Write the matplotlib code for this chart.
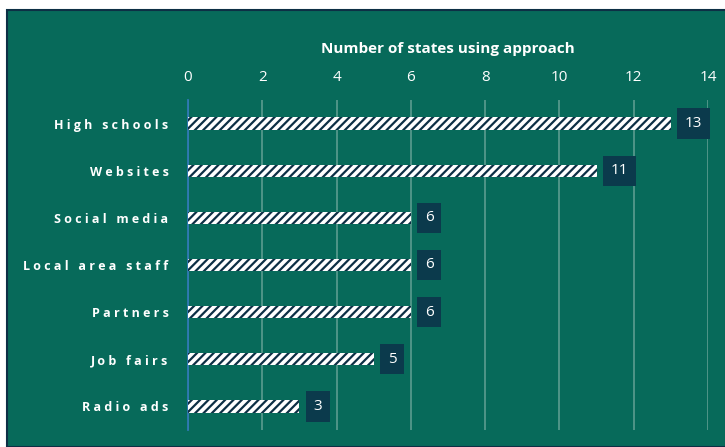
import matplotlib.pyplot as plt
import matplotlib.patches as mpatches

# data
categories = ["High schools", "Websites", "Social media", "Local area staff",
              "Partners", "Job fairs", "Radio ads"]
values = [13, 11, 6, 6, 6, 5, 3]
xticks = [0, 2, 4, 6, 8, 10, 12, 14]

GREEN = "#076A5A"
NAVY = "#0D2F45"
GRID = "#5C9C90"

plt.rcParams['font.family'] = ['Open Sans', 'DejaVu Sans']
plt.rcParams['hatch.linewidth'] = 1.6

W, H = 725, 447
fig = plt.figure(figsize=(W / 100, H / 100), dpi=100, facecolor="white")

# green panel with dark border
panel = mpatches.Rectangle((7 / W, 0), 1 - 6 / W, 1 - 10 / H, transform=fig.transFigure,
                           facecolor=GREEN, edgecolor=NAVY, linewidth=1.5, zorder=-1)
fig.add_artist(panel)

ax = fig.add_axes([188 / W, (H - 430) / H, (708 - 188) / W, 330 / H])
ax.set_facecolor("none")
ax.set_zorder(2)

y = list(range(len(categories)))
ax.barh(y, values, height=0.26, color="white", edgecolor=NAVY, hatch="////",
        linewidth=0, zorder=3)

for yi, v in zip(y, values):
    ax.annotate(str(v), (v, yi), xytext=(10, 0), textcoords="offset points",
                ha="left", va="center", color="white", fontsize=11, zorder=4,
                bbox=dict(boxstyle="square,pad=0.5", facecolor="#0B3A4C", edgecolor="none"))

ax.set_xlim(0, 14)
ax.set_ylim(len(categories) - 0.5, -0.5)
ax.set_xticks(xticks)
ax.xaxis.tick_top()
ax.xaxis.set_label_position("top")
ax.tick_params(axis="x", length=0, colors="white", labelsize=11, pad=11)
ax.tick_params(axis="y", length=0, pad=14)
ax.set_yticks(y)
ax.set_yticklabels(["   ".join(" ".join(w) for w in c.split(" ")) for c in categories],
                   color="white", fontsize=9, fontweight="bold")
ax.set_xlabel("Number of states using approach", color="white", fontsize=11,
              fontweight="bold", labelpad=12)

ax.grid(axis="x", color=GRID, linewidth=1.2, zorder=1)
for s in ["top", "right", "bottom"]:
    ax.spines[s].set_visible(False)
ax.spines["left"].set_color("#2F78B5")
ax.spines["left"].set_linewidth(1.3)
ax.spines["left"].set_zorder(2)

fig.savefig("out.png", dpi=100, facecolor="white")
